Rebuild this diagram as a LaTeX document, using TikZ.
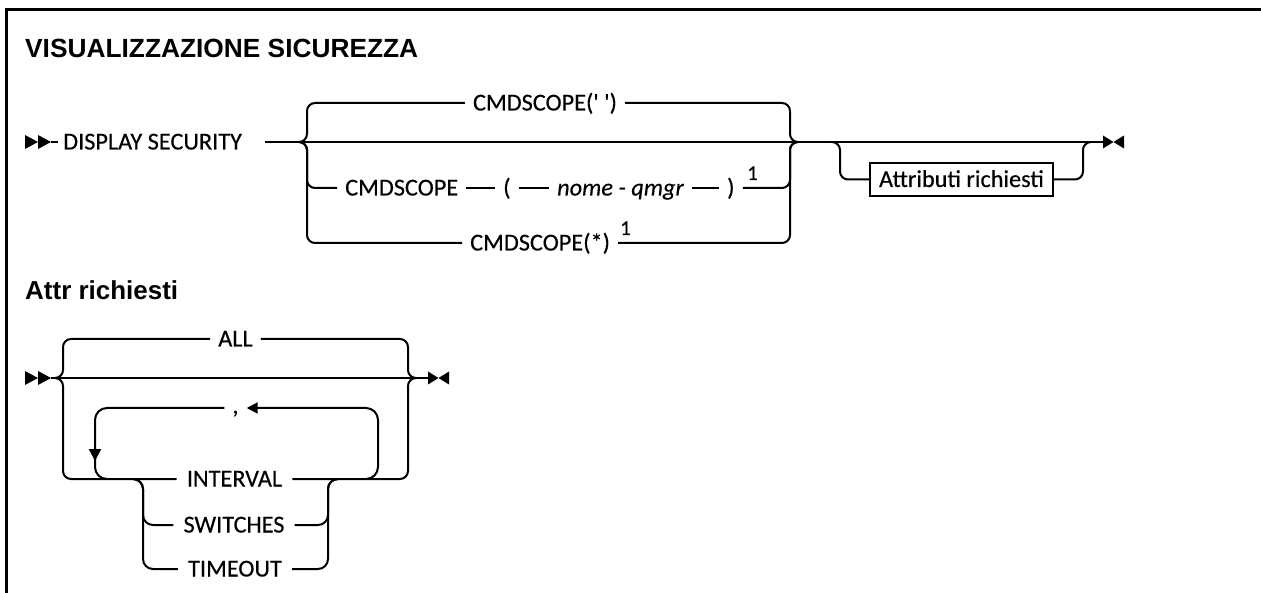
\documentclass[tikz,border=0pt]{standalone}
\usepackage{fontspec}
\usepackage{graphicx}
\usepackage{tikz}
\usetikzlibrary{arrows.meta}
\setmainfont{Carlito}
\newfontfamily\lblfam{Carlito}[FakeBold=0.3]
\newfontfamily\ttlfam{Liberation Sans}
\newlength\mylw
\begin{document}
\settowidth\mylw{\lblfam\fontsize{20}{24}\selectfont CMDSCOPE}%
\pgfmathsetmacro\lblsize{20*113/\mylw}%
\settowidth\mylw{\ttlfam\bfseries\fontsize{20}{24}\selectfont VISUALIZZAZIONE SICUREZZA}%
\pgfmathsetmacro\ttlsize{20*393/\mylw}%
\begin{tikzpicture}[x=1pt,y=-1pt,
  rail/.style={line width=2pt, rounded corners=8pt},
  lbl/.style={font=\lblfam\fontsize{\lblsize}{\lblsize}\selectfont, inner xsep=8pt, inner ysep=0pt, text height=15pt, text depth=0pt},
  fnote/.style={font=\lblfam\fontsize{21}{24}\selectfont, inner sep=0pt, anchor=base west},
  ttl/.style={font=\ttlfam\bfseries\fontsize{\ttlsize}{\ttlsize}\selectfont, inner sep=0pt, anchor=base west},
  tipL/.style={-{Triangle[length=11pt,width=11pt]}},
  startmark/.pic={\fill (-26,-7) -- (-13,0) -- (-26,7) -- cycle; \fill (-13,-7) -- (0,0) -- (-13,7) -- cycle;},
  endmark/.pic={\fill (0,-6.5) -- (10.5,0) -- (0,6.5) -- cycle; \fill (21,-6.5) -- (10.5,0) -- (21,6.5) -- cycle;}
]
\useasboundingbox (0,0) rectangle (1261,593);
\draw[line width=3pt] (1265,9.5) -- (6.5,9.5) -- (6.5,597);

% ---------- diagram 1 ----------
\node[ttl] (t1) at (25,58) {VISUALIZZAZIONE SICUREZZA};
\coordinate (s1) at (51,142);
\pic at (s1) {startmark};
\node[lbl, anchor=west, inner xsep=5pt] (ds) at (58,142) {DISPLAY SECURITY};
\draw[rail] (s1) -- (ds.west);
\coordinate (m1) at (265,142);
\coordinate (e1) at (1103,142);
\draw[rail] (m1) -- (e1);
\pic at (e1) {endmark};
\coordinate (lb) at (299,142);
\coordinate (lbv) at (307,142);
\coordinate (rbv) at (790,142);
\coordinate (rb) at (798,142);

\node[lbl] (c1) at (545,103) {CMDSCOPE(\textquotesingle\ \textquotesingle)};
\node[lbl, anchor=west] (k1) at (337,188) {CMDSCOPE};
\node[lbl, anchor=west] (k2) at (495,188) {(};
\node[lbl, anchor=west] (k3) at (549,188) {\itshape nome - qmgr};
\node[lbl, anchor=west] (k4) at (719,188) {)};
\node[fnote] (f1) at (747,180) {1};
\node[lbl, anchor=west] (k5) at (462,243) {CMDSCOPE(*)};
\node[fnote] (f2) at (620,235) {1};

\draw[rail] (lb) -- (lbv) |- (c1.west);
\draw[rail] (c1.east) -| (rbv) -- (rb);
\draw[rail] (lb) -- (lbv) |- (k1.west);
\draw[rail] (k1.east) -- (k2.west);
\draw[rail] (k2.east) -- (k3.west);
\draw[rail] (k3.east) -- (k4.west);
\draw[rail] (k4.east) -| (rbv) -- (rb);
\draw[rail] (lb) -- (lbv) |- (k5.west);
\draw[rail] (k5.east) -| (rbv) -- (rb);

\coordinate (o1) at (832,142);
\coordinate (o1v) at (840,142);
\coordinate (o2v) at (1083,142);
\coordinate (o2) at (1091,142);
\node[lbl, draw, line width=1.5pt, minimum width=183pt, minimum height=33pt] (ar) at (961.5,179.5) {Attributi richiesti};
\draw[rail] (o1) -- (o1v) |- (ar.west);
\draw[rail] (ar.east) -| (o2v) -- (o2);

% ---------- diagram 2 ----------
\node[inner sep=0pt, anchor=base west] (t2) at (25,300) {\resizebox{153pt}{!}{\ttlfam\bfseries\fontsize{20}{24}\selectfont Attr richiesti}};
\coordinate (s2) at (51,378);
\pic at (s2) {startmark};
\coordinate (e2) at (428,378);
\pic at (e2) {endmark};
\draw[rail] (s2) -- (e2);
\coordinate (lb2) at (55,378);
\coordinate (lbv2) at (63,378);
\coordinate (rbv2) at (408,378);
\coordinate (rb2) at (416,378);

\node[lbl] (all) at (235.5,339) {ALL};
\node[lbl, inner xsep=10pt] (iv) at (234.5,479) {INTERVAL};
\node[lbl, inner xsep=10pt] (sw) at (234,525) {SWITCHES};
\node[lbl, inner xsep=10pt] (to) at (235,569) {TIMEOUT};
\node[lbl, text height=11pt] (cm) at (235.5,408) {,};

\draw[rail] (lb2) -- (lbv2) |- (all.west);
\draw[rail] (all.east) -| (rbv2) -- (rb2);
\draw[rail] (lb2) -- (lbv2) |- (iv.west);
\draw[rail] (iv.east) -| (rbv2) -- (rb2);

\coordinate (ib1) at (133,479);
\coordinate (ib1v) at (143,479);
\coordinate (ib2v) at (328,479);
\coordinate (ib2) at (338,479);
\draw[rail, rounded corners=10pt] (ib1) -- (ib1v) |- (sw.west);
\draw[rail, rounded corners=10pt] (ib1) -- (ib1v) |- (to.west);
\draw[rail, rounded corners=10pt] (sw.east) -| (ib2v) -- (ib2);
\draw[rail, rounded corners=10pt] (to.east) -| (ib2v) -- (ib2);

\coordinate (la) at (366,479);
\coordinate (lav) at (378,479);
\coordinate (lcv) at (95,479);
\coordinate (lc) at (107,479);
\draw[rail, rounded corners=12pt, tipL] (la) -- (lav) |- (cm.east);
\draw[rail, rounded corners=12pt] (cm.west) -| (lcv) -- (lc);
\coordinate (ar1) at (95,440);
\coordinate (ar2) at (95,461);
\draw[line width=2pt, -{Triangle[length=12pt,width=12pt]}] (ar1) -- (ar2);
\end{tikzpicture}
\end{document}
